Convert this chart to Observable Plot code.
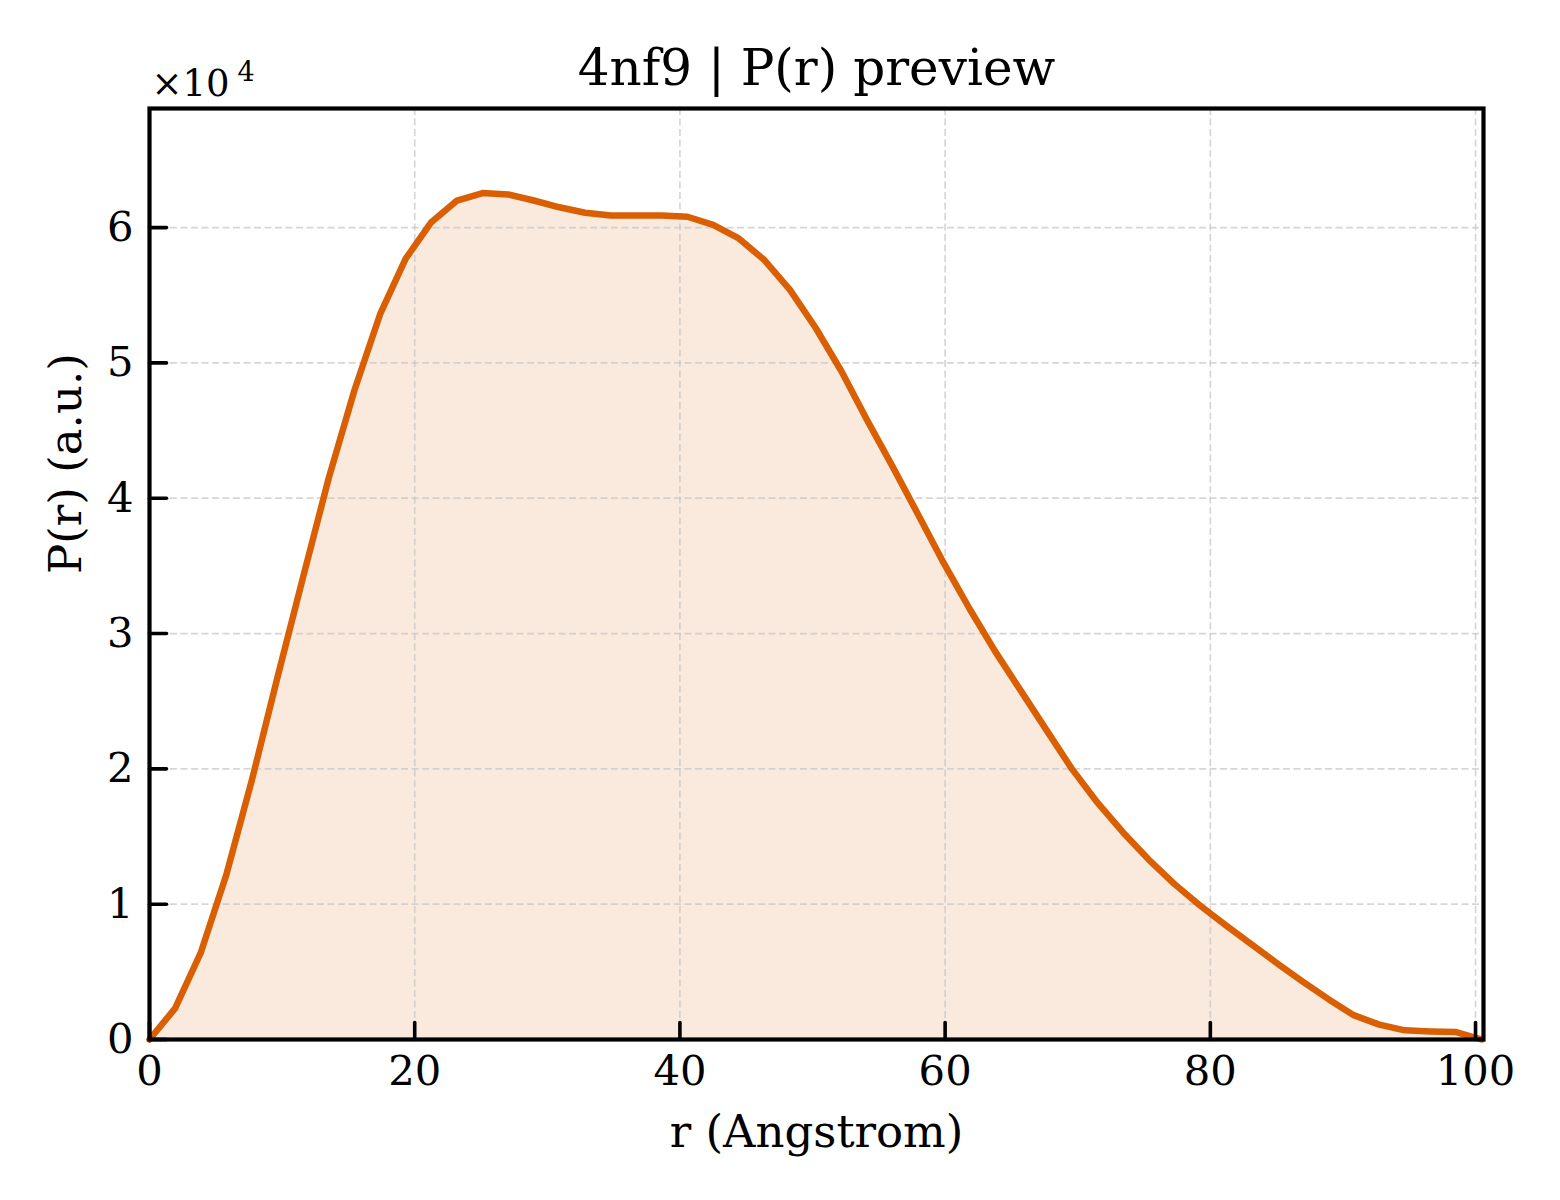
<!DOCTYPE html>
<html>
<head>
<meta charset="utf-8">
<script src="https://cdn.jsdelivr.net/npm/d3@7"></script>
<script src="https://cdn.jsdelivr.net/npm/@observablehq/plot@0.6"></script>
<style>
  html, body { margin: 0; padding: 0; background: #fff; }
  #chart svg { display: block; }
</style>
</head>
<body>
<div id="chart"></div>
<script>
const title = "4nf9 | P(r) preview";
const xLabel = "r (Angstrom)";
const yLabel = "P(r) (a.u.)";
const offsetBase = "×10";
const offsetExp = "4";

// r in Angstrom
const r = [0, 1.93, 3.86, 5.80, 7.73, 9.66, 11.59, 13.52, 15.46, 17.39, 19.32,
  21.25, 23.19, 25.12, 27.05, 28.98, 30.91, 32.85, 34.78, 36.71, 38.64,
  40.57, 42.51, 44.44, 46.37, 48.30, 50.23, 52.17, 54.10, 56.03, 57.96,
  59.90, 61.83, 63.76, 65.69, 67.62, 69.56, 71.49, 73.42, 75.35, 77.28,
  79.22, 81.15, 83.08, 85.01, 86.94, 88.88, 90.81, 92.74, 94.67, 96.61, 98.54, 100.47];

// P(r) in arbitrary units
const pr = [0, 2300, 6400, 12200, 19200, 26800, 34200, 41500, 48000, 53600, 57700,
  60400, 62000, 62550, 62450, 62000, 61500, 61100, 60900, 60900, 60900,
  60800, 60200, 59200, 57600, 55400, 52600, 49400, 45800, 42350, 38800,
  35200, 31850, 28700, 25800, 22900, 20000, 17500, 15300, 13300, 11500,
  9900, 8450, 7050, 5650, 4300, 3000, 1800, 1100, 680, 600, 550, 0];

const xTicks = [0, 20, 40, 60, 80, 100];
const yTicks = [0, 10000, 20000, 30000, 40000, 50000, 60000];

const rows = r.map((v, i) => ({r: v, p: pr[i]}));

const font = "'DejaVu Serif', serif";
const orange = "#d95f02";
const gridStyle = {stroke: "#c4c4c4", strokeOpacity: 0.7, strokeWidth: 1.7, strokeDasharray: "7,3.5"};
const tickShape = {draw(context, l) { context.moveTo(0, 0); context.lineTo(0, -l); }};
const tickStyle = {length: 17, anchor: "start", shape: tickShape, stroke: "#000", fill: "none", strokeWidth: 3.6};

const chart = Plot.plot({
  width: 1560,
  height: 1200,
  marginLeft: 149,
  marginRight: 77,
  marginTop: 108,
  marginBottom: 161,
  style: {fontFamily: font, background: "#fff", color: "#000"},
  x: {domain: [0, 100.6]},
  y: {domain: [0, 68800]},
  marks: [
    Plot.areaY(rows, {x: "r", y: "p", fill: orange, fillOpacity: 0.13}),
    Plot.gridX(xTicks.slice(1), gridStyle),
    Plot.gridY(yTicks.slice(1), gridStyle),
    Plot.lineY(rows, {x: "r", y: "p", stroke: orange, strokeWidth: 6.5, strokeLinejoin: "round"}),
    Plot.vector(xTicks, {x: d => d, y: 0, rotate: 0, ...tickStyle}),
    Plot.vector(yTicks, {x: 0, y: d => d, rotate: 90, ...tickStyle}),
    Plot.axisX(xTicks, {tickSize: 0, tickPadding: 16, fontSize: 41.7, label: null}),
    Plot.axisY(yTicks, {tickSize: 0, tickPadding: 16, fontSize: 41.7, tickFormat: d => String(d / 10000), label: null}),
    Plot.frame({stroke: "#000", strokeWidth: 4.2}),
    Plot.text([title], {frameAnchor: "top", dy: -24, lineAnchor: "bottom", fontSize: 50, fill: "#000"}),
    Plot.text([xLabel], {frameAnchor: "bottom", dy: 107, lineAnchor: "bottom", fontSize: 45, fill: "#000"}),
    Plot.text([yLabel], {frameAnchor: "left", dx: -69, rotate: -90, lineAnchor: "bottom", fontSize: 45, fill: "#000"}),
    Plot.text([offsetBase], {frameAnchor: "top-left", dx: 2, dy: -13, textAnchor: "start", lineAnchor: "bottom", fontSize: 37, fill: "#000"}),
    Plot.text([offsetExp], {frameAnchor: "top-left", dx: 88, dy: -28, textAnchor: "start", lineAnchor: "bottom", fontSize: 27, fill: "#000"})
  ]
});
document.getElementById("chart").appendChild(chart);
</script>
</body>
</html>
